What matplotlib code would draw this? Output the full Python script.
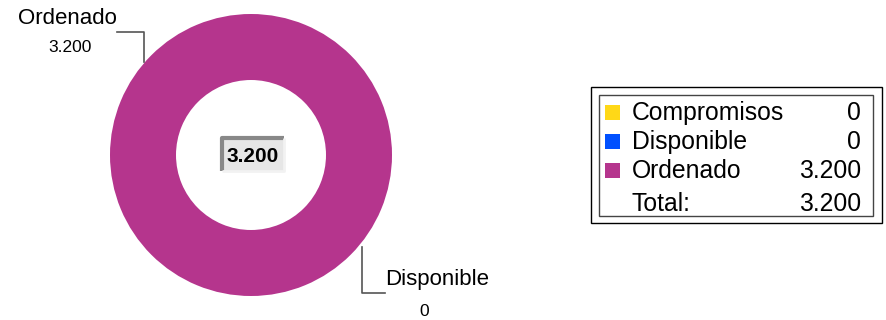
import matplotlib
matplotlib.use("Agg")
import matplotlib.pyplot as plt
from matplotlib.patches import Rectangle

plt.rcParams['font.family'] = ['Liberation Sans', 'DejaVu Sans']

categories = ["Compromisos", "Disponible", "Ordenado"]
values = [0, 0, 3200]
colors = ["#FFD817", "#0050FF", "#B5358D"]
value_labels = ["0", "0", "3.200"]
total_label = "3.200"

fig = plt.figure(figsize=(8.86, 3.2), dpi=100)
ax = fig.add_axes([0, 0, 1, 1])

cx, cy, R = 251, 155, 141
ax.pie(values, colors=colors, center=(cx, cy), radius=R, startangle=90,
       counterclock=False, wedgeprops=dict(width=66, linewidth=0))
ax.set_xlim(0, 886)
ax.set_ylim(320, 0)
ax.set_aspect('equal')
ax.axis('off')

# callouts
ax.plot([117, 144, 144], [32, 32, 62], color="#555555", lw=1.2)
ax.text(67, 19, categories[2], fontsize=16, ha='center', va='center')
ax.text(70, 47, value_labels[2], fontsize=12.5, ha='center', va='center')

ax.plot([362, 362, 385], [247, 293, 293], color="#555555", lw=1.2)
ax.text(437, 279, categories[1], fontsize=16, ha='center', va='center')
ax.text(424, 311, value_labels[1], fontsize=12.5, ha='center', va='center')

# center bevel box
ax.add_patch(Rectangle((222, 138), 62, 33, facecolor="#E6E6E6", edgecolor='none'))
ax.plot([222, 222, 284], [171, 138, 138], color="#888888", lw=3, solid_capstyle='butt')
ax.plot([222, 284, 284], [171, 171, 138], color="#F2F2F2", lw=2, solid_capstyle='butt')
ax.text(253, 157, total_label, fontsize=15, fontweight='bold', ha='center', va='center')

# legend
ax.add_patch(Rectangle((591, 87), 291, 136, facecolor='white', edgecolor='black', lw=1))
ax.add_patch(Rectangle((599, 95), 274, 121, facecolor='none', edgecolor='#444444', lw=1))
rows_y = [112, 141, 170]
for y, name, col, lab in zip(rows_y, categories, colors, value_labels):
    ax.add_patch(Rectangle((605, y - 7), 15, 15, facecolor=col, edgecolor='none'))
    ax.text(632, y + 1, name, fontsize=17.8, ha='left', va='center')
    ax.text(861, y + 1, lab, fontsize=17.8, ha='right', va='center')
ax.text(632, 204, "Total:", fontsize=17.8, ha='left', va='center')
ax.text(861, 204, total_label, fontsize=17.8, ha='right', va='center')

fig.savefig("out.png", dpi=100)
